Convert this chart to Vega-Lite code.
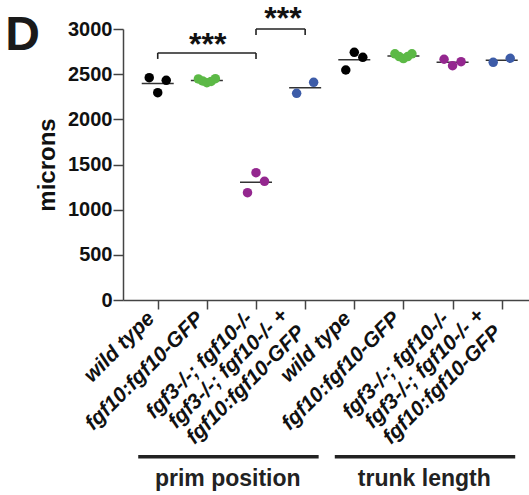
{
  "$schema": "https://vega.github.io/schema/vega-lite/v6.json",
  "autosize": {"type": "none"},
  "padding": {"left": 123, "top": 29, "right": 0, "bottom": 195},
  "width": 406,
  "height": 271,
  "background": "white",
  "config": {"view": {"stroke": null}, "font": "Liberation Sans"},
  "title": {"text": "D", "orient": "left", "anchor": "end", "frame": "group", "angle": 0, "align": "right", "fontSize": 48, "fontWeight": "bold", "font": "Liberation Sans", "color": "#1a1a1a", "baseline": "alphabetic", "offset": 4, "dx": 43, "dy": 21},
  "datasets": {
    "cells": [
      {"assay": "prim position", "genotype": "wild type", "microns": 2461},
      {"assay": "prim position", "genotype": "wild type", "microns": 2295},
      {"assay": "prim position", "genotype": "wild type", "microns": 2432},
      {"assay": "prim position", "genotype": "fgf10:fgf10-GFP", "microns": 2447},
      {"assay": "prim position", "genotype": "fgf10:fgf10-GFP", "microns": 2425},
      {"assay": "prim position", "genotype": "fgf10:fgf10-GFP", "microns": 2405},
      {"assay": "prim position", "genotype": "fgf10:fgf10-GFP", "microns": 2420},
      {"assay": "prim position", "genotype": "fgf10:fgf10-GFP", "microns": 2450},
      {"assay": "prim position", "genotype": "fgf3-/-; fgf10-/-", "microns": 1188},
      {"assay": "prim position", "genotype": "fgf3-/-; fgf10-/-", "microns": 1409},
      {"assay": "prim position", "genotype": "fgf3-/-; fgf10-/-", "microns": 1314},
      {"assay": "prim position", "genotype": "fgf3-/-; fgf10-/- + fgf10:fgf10-GFP", "microns": 2288},
      {"assay": "prim position", "genotype": "fgf3-/-; fgf10-/- + fgf10:fgf10-GFP", "microns": 2410},
      {"assay": "trunk length", "genotype": "wild type", "microns": 2546},
      {"assay": "trunk length", "genotype": "wild type", "microns": 2742},
      {"assay": "trunk length", "genotype": "wild type", "microns": 2687},
      {"assay": "trunk length", "genotype": "fgf10:fgf10-GFP", "microns": 2725},
      {"assay": "trunk length", "genotype": "fgf10:fgf10-GFP", "microns": 2695},
      {"assay": "trunk length", "genotype": "fgf10:fgf10-GFP", "microns": 2672},
      {"assay": "trunk length", "genotype": "fgf10:fgf10-GFP", "microns": 2695},
      {"assay": "trunk length", "genotype": "fgf10:fgf10-GFP", "microns": 2725},
      {"assay": "trunk length", "genotype": "fgf3-/-; fgf10-/-", "microns": 2665},
      {"assay": "trunk length", "genotype": "fgf3-/-; fgf10-/-", "microns": 2594},
      {"assay": "trunk length", "genotype": "fgf3-/-; fgf10-/-", "microns": 2638},
      {"assay": "trunk length", "genotype": "fgf3-/-; fgf10-/- + fgf10:fgf10-GFP", "microns": 2631},
      {"assay": "trunk length", "genotype": "fgf3-/-; fgf10-/- + fgf10:fgf10-GFP", "microns": 2676}
    ],
    "sig": [
      {"from": "prim position|wild type", "to": "prim position|fgf3-/-; fgf10-/-", "level": 2735, "label": "***"},
      {"from": "prim position|fgf3-/-; fgf10-/-", "to": "prim position|fgf3-/-; fgf10-/- + fgf10:fgf10-GFP", "level": 3000, "label": "***"}
    ],
    "groups": [
      {"assay": "prim position", "first": "prim position|wild type", "last": "prim position|fgf3-/-; fgf10-/- + fgf10:fgf10-GFP"},
      {"assay": "trunk length", "first": "trunk length|wild type", "last": "trunk length|fgf3-/-; fgf10-/- + fgf10:fgf10-GFP"}
    ]
  },
  "layer": [
    {
      "data": {"name": "cells"},
      "transform": [{"calculate": "datum.assay + '|' + datum.genotype", "as": "cond"}],
      "mark": {"type": "tick", "size": 32, "thickness": 1.5, "color": "#333333"},
      "encoding": {
        "x": {
          "field": "cond", "type": "nominal", "sort": null,
          "scale": {"type": "point", "domain": ["prim position|wild type", "prim position|fgf10:fgf10-GFP", "prim position|fgf3-/-; fgf10-/-", "prim position|fgf3-/-; fgf10-/- + fgf10:fgf10-GFP", "trunk length|wild type", "trunk length|fgf10:fgf10-GFP", "trunk length|fgf3-/-; fgf10-/-", "trunk length|fgf3-/-; fgf10-/- + fgf10:fgf10-GFP"], "padding": 0.631, "align": 0.56},
          "axis": {
            "title": null,
            "labelExpr": "split(replace(split(datum.value, '|')[1], ' + ', ' +|'), '|')",
            "labelAngle": -45, "labelAlign": "right", "labelBaseline": "middle",
            "labelFont": "Liberation Sans", "labelFontSize": 21, "labelFontStyle": "italic", "labelFontWeight": "bold", "labelColor": "#111111",
            "labelLineHeight": 24, "labelLimit": 0, "labelOverlap": false,
            "labelPadding": {"condition": {"test": "indexof(datum.value, ' + ') >= 0", "value": 3}, "value": 6},
            "labelOffset": {"condition": {"test": "indexof(datum.value, ' + ') >= 0", "value": -21}, "value": -7},
            "tickSize": 9, "tickWidth": 1.5, "tickColor": "#444444",
            "domainColor": "#444444", "domainWidth": 1.5, "grid": false
          }
        },
        "y": {
          "aggregate": "mean", "field": "microns", "type": "quantitative",
          "scale": {"domain": [0, 3000], "nice": false},
          "axis": {
            "title": "microns", "titleFont": "Liberation Sans", "titleFontSize": 24, "titleFontWeight": "bold", "titleColor": "#111111", "titlePadding": 8,
            "values": [0, 500, 1000, 1500, 2000, 2500, 3000], "format": "d",
            "labelFont": "Liberation Sans", "labelFontSize": 20, "labelFontWeight": "bold", "labelColor": "#111111", "labelPadding": 1,
            "tickSize": 10, "tickWidth": 1.5, "tickColor": "#444444",
            "domainColor": "#444444", "domainWidth": 1.5, "grid": false
          }
        }
      }
    },
    {
      "data": {"name": "cells"},
      "transform": [
        {"calculate": "datum.assay + '|' + datum.genotype", "as": "cond"},
        {"window": [{"op": "row_number", "as": "idx"}], "groupby": ["cond"]},
        {"joinaggregate": [{"op": "count", "as": "n"}], "groupby": ["cond"]},
        {"calculate": "datum.n > 1 ? (datum.idx - 1) / (datum.n - 1) - 0.5 : 0", "as": "off"}
      ],
      "mark": {"type": "circle", "size": 90, "opacity": 1},
      "encoding": {
        "x": {"field": "cond", "type": "nominal", "sort": null},
        "xOffset": {"field": "off", "type": "quantitative", "scale": {"domain": [-0.5, 0.5], "range": [-8.5, 8.5]}},
        "y": {"field": "microns", "type": "quantitative"},
        "color": {"field": "genotype", "type": "nominal", "legend": null,
          "scale": {"domain": ["wild type", "fgf10:fgf10-GFP", "fgf3-/-; fgf10-/-", "fgf3-/-; fgf10-/- + fgf10:fgf10-GFP"], "range": ["#000000", "#5CB946", "#94278F", "#3D5CA8"]}}
      }
    },
    {
      "data": {"name": "sig"},
      "mark": {"type": "rule", "strokeWidth": 1.6, "color": "#222222"},
      "encoding": {
        "x": {"field": "from", "type": "nominal"},
        "x2": {"field": "to"},
        "y": {"field": "level", "type": "quantitative"}
      }
    },
    {
      "data": {"name": "sig"},
      "mark": {"type": "rule", "strokeWidth": 1.6, "color": "#222222", "y2Offset": 6},
      "encoding": {
        "x": {"field": "from", "type": "nominal"},
        "y": {"field": "level", "type": "quantitative"},
        "y2": {"field": "level"}
      }
    },
    {
      "data": {"name": "sig"},
      "mark": {"type": "rule", "strokeWidth": 1.6, "color": "#222222", "y2Offset": 6},
      "encoding": {
        "x": {"field": "to", "type": "nominal"},
        "y": {"field": "level", "type": "quantitative"},
        "y2": {"field": "level"}
      }
    },
    {
      "data": {"name": "sig"},
      "transform": [{"filter": "datum.level < 2900"}],
      "mark": {"type": "text", "font": "Liberation Sans", "fontSize": 32, "fontWeight": "bold", "align": "center", "baseline": "alphabetic", "dx": 50, "dy": 2, "color": "#111111"},
      "encoding": {
        "x": {"field": "from", "type": "nominal"},
        "y": {"field": "level", "type": "quantitative"},
        "text": {"field": "label"}
      }
    },
    {
      "data": {"name": "sig"},
      "transform": [{"filter": "datum.level >= 2900"}],
      "mark": {"type": "text", "font": "Liberation Sans", "fontSize": 32, "fontWeight": "bold", "align": "center", "baseline": "alphabetic", "dx": 27, "dy": 0, "color": "#111111"},
      "encoding": {
        "x": {"field": "from", "type": "nominal"},
        "y": {"field": "level", "type": "quantitative"},
        "text": {"field": "label"}
      }
    },
    {
      "data": {"name": "groups"},
      "mark": {"type": "rule", "strokeWidth": 3.3, "color": "#222222", "xOffset": -19.5, "x2Offset": 13.5},
      "encoding": {
        "x": {"field": "first", "type": "nominal"},
        "x2": {"field": "last"},
        "y": {"datum": -1735, "type": "quantitative"}
      }
    },
    {
      "data": {"name": "groups"},
      "mark": {"type": "text", "font": "Liberation Sans", "fontSize": 23, "fontWeight": "bold", "align": "center", "baseline": "alphabetic", "dx": 70, "color": "#222222"},
      "encoding": {
        "x": {"field": "first", "type": "nominal"},
        "y": {"datum": -2059, "type": "quantitative"},
        "text": {"field": "assay"}
      }
    }
  ]
}
